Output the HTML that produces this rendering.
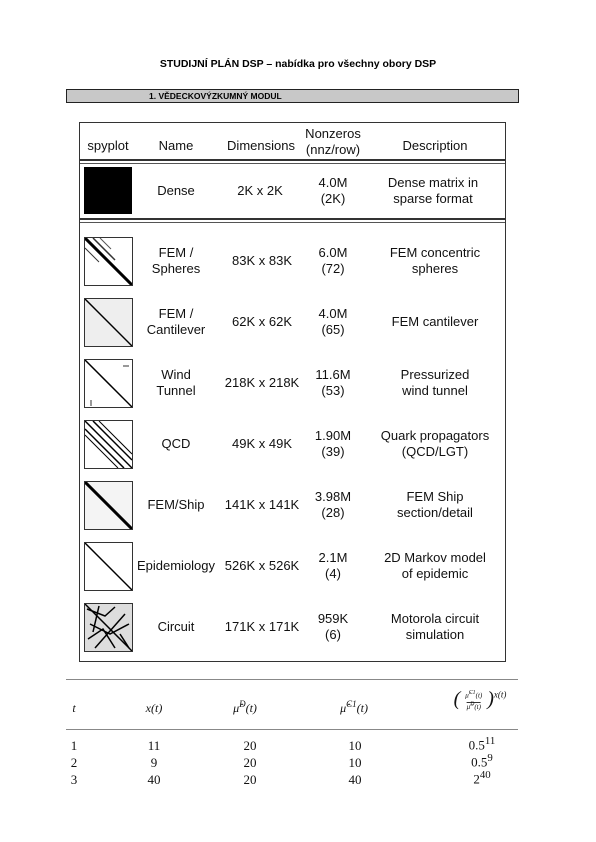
<!DOCTYPE html>
<html><head><meta charset="utf-8"><style>
body{margin:0;width:596px;height:842px;background:#fff;position:relative;overflow:hidden;font-family:"Liberation Sans",sans-serif}
.a{position:absolute}
.c{position:absolute;text-align:center;transform:translateX(-50%);font-size:13px;line-height:16px;color:#111;white-space:nowrap}
.s{position:absolute;text-align:center;transform:translateX(-50%);font-family:"Liberation Serif",serif;font-size:12px;color:#111;white-space:nowrap}
.ic{position:absolute;left:84px;width:47px;height:47px;border:1px solid #333;background:#fff}
.hr2{position:absolute;left:80px;width:425px;height:2px;border-top:2px solid #333;border-bottom:1px solid #555}
</style></head><body>
<div class="a" style="left:0;width:596px;top:58px;text-align:center;font-weight:bold;font-size:10.5px">STUDIJNÍ PLÁN DSP – nabídka pro všechny obory DSP</div>
<div class="a" style="left:66px;top:89px;width:451px;height:12px;background:#c8c8c8;border:1px solid #222;font-size:8.5px;font-weight:bold;line-height:12px"><span style="margin-left:82px">1. VĚDECKOVÝZKUMNÝ MODUL</span></div>

<div class="a" style="left:79px;top:122px;width:425px;height:538px;border:1px solid #333"></div>
<div class="c" style="left:108px;top:138px">spyplot</div>
<div class="c" style="left:176px;top:138px">Name</div>
<div class="c" style="left:261px;top:138px">Dimensions</div>
<div class="c" style="left:333px;top:126px">Nonzeros<br>(nnz/row)</div>
<div class="c" style="left:435px;top:138px">Description</div>
<div class="hr2" style="top:159px"></div>
<div class="hr2" style="top:218px"></div>

<div class="a" style="left:84px;top:167px;width:48px;height:47px;background:#000"></div>
<div class="c" style="left:176px;top:183px">Dense</div>
<div class="c" style="left:260px;top:183px">2K x 2K</div>
<div class="c" style="left:333px;top:175px">4.0M<br>(2K)</div>
<div class="c" style="left:433px;top:175px">Dense matrix in<br>sparse format</div>

<div id="rows"></div>

<div class="a" style="left:66px;top:679px;width:452px;height:1px;background:#888"></div>
<div class="a" style="left:66px;top:729px;width:452px;height:1px;background:#888"></div>
<div class="s" style="left:74px;top:701px;font-style:italic">t</div>
<div class="s" style="left:154px;top:701px;font-style:italic">x(t)</div>
<div class="s" style="left:245px;top:699px;font-style:italic">μ̂<sup style="font-size:9px">D</sup>(t)</div>
<div class="s" style="left:354px;top:699px;font-style:italic">μ̂<sup style="font-size:9px">C1</sup>(t)</div>
<div class="s" style="left:480px;top:688px;font-style:italic;font-size:20px">( <span style="display:inline-block;font-size:7px;vertical-align:middle;line-height:9px">μ̂<sup>C1</sup>(t)<br><span style="border-top:1px solid #333">μ̂<sup>D</sup>(t)</span></span> )<sup style="font-size:9px">x(t)</sup></div>
<div id="btab"></div>

<script>
var names=["FEM /<br>Spheres","FEM /<br>Cantilever","Wind<br>Tunnel","QCD","FEM/Ship","Epidemiology","Circuit"];
var dims=["83K x 83K","62K x 62K","218K x 218K","49K x 49K","141K x 141K","526K x 526K","171K x 171K"];
var nnz=["6.0M<br>(72)","4.0M<br>(65)","11.6M<br>(53)","1.90M<br>(39)","3.98M<br>(28)","2.1M<br>(4)","959K<br>(6)"];
var desc=["FEM concentric<br>spheres","FEM cantilever","Pressurized<br>wind tunnel","Quark propagators<br>(QCD/LGT)","FEM Ship<br>section/detail","2D Markov model<br>of epidemic","Motorola circuit<br>simulation"];
var tv=["1","2","3"],xv=["11","9","40"],dv=["20","20","20"],cv=["10","10","40"],rv=["0.5<sup>11</sup>","0.5<sup>9</sup>","2<sup>40</sup>"];
var R=document.getElementById('rows'),h='';
var icons=[
'<line x1="0" y1="0" x2="47" y2="47" stroke="#000" stroke-width="3"/><line x1="8" y1="0" x2="30" y2="22" stroke="#333" stroke-width="1.5"/><line x1="0" y1="10" x2="14" y2="24" stroke="#333"/><line x1="15" y1="0" x2="26" y2="11" stroke="#555"/>',
'<rect width="47" height="47" fill="#eee"/><line x1="0" y1="0" x2="47" y2="47" stroke="#000" stroke-width="1.5"/>',
'<line x1="0" y1="0" x2="47" y2="47" stroke="#000" stroke-width="1.5"/><line x1="38" y1="6" x2="44" y2="6" stroke="#333"/><line x1="6" y1="40" x2="6" y2="46" stroke="#333"/>',
'<line x1="0" y1="0" x2="47" y2="47" stroke="#000" stroke-width="1.5"/><line x1="0" y1="8" x2="39" y2="47" stroke="#000" stroke-width="1.5"/><line x1="8" y1="0" x2="47" y2="39" stroke="#000" stroke-width="1.5"/><line x1="0" y1="14" x2="33" y2="47" stroke="#000"/><line x1="14" y1="0" x2="47" y2="33" stroke="#000"/>',
'<rect width="47" height="47" fill="#f4f4f4"/><line x1="0" y1="0" x2="47" y2="47" stroke="#000" stroke-width="3"/>',
'<line x1="0" y1="0" x2="47" y2="47" stroke="#000" stroke-width="1.5"/>',
'<rect width="47" height="47" fill="#ddd"/><path d="M2 5 L20 12 L30 3 M5 20 L25 30 L44 20 M3 35 L18 25 L30 44 M10 44 L40 10 M35 30 L44 44 M14 2 L8 28" stroke="#000" fill="none" stroke-width="1.5"/><line x1="0" y1="0" x2="47" y2="47" stroke="#000" stroke-width="1.5"/>'];
for(var i=0;i<names.length;i++){
 var rowTop=237+i*61, cy=rowTop+24;
 var two=names[i].indexOf('<br>')>=0;
 h+='<svg class="ic" style="top:'+rowTop+'px" viewBox="0 0 47 47">'+icons[i]+'</svg>';
 h+='<div class="c" style="left:176px;top:'+(cy-(two?16:8))+'px">'+names[i]+'</div>';
 h+='<div class="c" style="left:262px;top:'+(cy-8)+'px">'+dims[i]+'</div>';
 h+='<div class="c" style="left:333px;top:'+(cy-16)+'px">'+nnz[i]+'</div>';
 var d2=desc[i].indexOf('<br>')>=0;
 h+='<div class="c" style="left:435px;top:'+(cy-(d2?16:8))+'px">'+desc[i]+'</div>';
}
R.innerHTML=h;
var B=document.getElementById('btab'),b='';
for(var j=0;j<tv.length;j++){
 var yy=738+j*17;
 b+='<div class="s" style="left:74px;top:'+yy+'px;font-size:13px">'+tv[j]+'</div>';
 b+='<div class="s" style="left:154px;top:'+yy+'px;font-size:13px">'+xv[j]+'</div>';
 b+='<div class="s" style="left:250px;top:'+yy+'px;font-size:13px">'+dv[j]+'</div>';
 b+='<div class="s" style="left:355px;top:'+yy+'px;font-size:13px">'+cv[j]+'</div>';
 b+='<div class="s" style="left:482px;top:'+(yy-3)+'px;font-size:13px">'+rv[j]+'</div>';
}
B.innerHTML=b;
</script>
</body></html>
